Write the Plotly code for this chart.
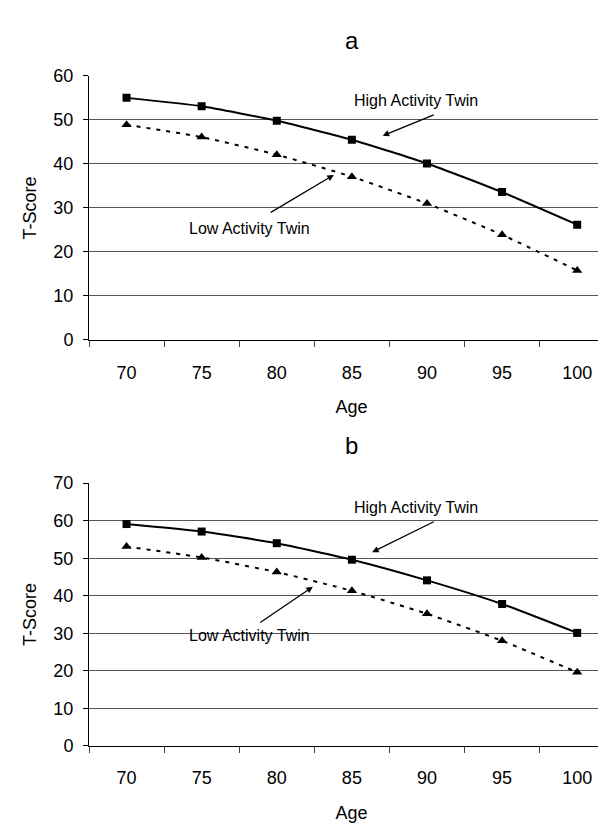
import plotly.graph_objects as go

ages = ["70", "75", "80", "85", "90", "95", "100"]

# Panel a
high_a = [55.0, 53.1, 49.8, 45.5, 40.1, 33.6, 26.2]
low_a = [48.9, 46.1, 42.1, 37.1, 31.0, 23.9, 15.8]
# Panel b
high_b = [59.1, 57.1, 54.0, 49.6, 44.1, 37.8, 30.1]
low_b = [53.1, 50.2, 46.3, 41.3, 35.2, 28.0, 19.6]

panel_titles = ["a", "b"]
FONT = "Liberation Sans, Arial, sans-serif"

fig = go.Figure()

def add_panel(high, low, xa, ya):
    fig.add_trace(go.Scatter(
        x=ages, y=high, xaxis=xa, yaxis=ya, mode="lines+markers",
        line=dict(color="black", width=2, shape="spline", smoothing=0.5),
        marker=dict(symbol="square", size=8, color="black"),
        showlegend=False, name="High Activity Twin"))
    fig.add_trace(go.Scatter(
        x=ages, y=low, xaxis=xa, yaxis=ya, mode="lines+markers",
        line=dict(color="black", width=2, shape="spline", smoothing=0.5, dash="4px,6px"),
        marker=dict(symbol="triangle-up", size=9, color="black"),
        showlegend=False, name="Low Activity Twin"))

add_panel(high_a, low_a, "x", "y")
add_panel(high_b, low_b, "x2", "y2")

H = 824.0
def dom(top_px, bottom_px):
    return [1 - bottom_px / H, 1 - top_px / H]

xcommon = dict(type="category", range=[-0.5, 6.49], showline=True, linecolor="black",
               linewidth=1, ticks="outside", ticklen=6, tickcolor="#444",
               tickson="boundaries", showgrid=False, zeroline=False,
               ticklabelstandoff=16,
               tickfont=dict(family=FONT, size=18, color="black"),
               title=dict(text="Age", font=dict(family=FONT, size=18, color="black"), standoff=18))
ycommon = dict(showline=True, linecolor="black", linewidth=1, ticks="outside", ticklen=5,
               tickcolor="black", showgrid=True, gridcolor="#555", gridwidth=1, zeroline=False,
               ticklabelstandoff=6,
               tickfont=dict(family=FONT, size=18, color="black"),
               title=dict(text="T-Score", font=dict(family=FONT, size=18, color="black"), standoff=12))

fig.update_layout(
    width=606, height=824,
    margin=dict(l=81, r=0, t=0, b=0),
    plot_bgcolor="white", paper_bgcolor="white",
    xaxis=dict(**xcommon, domain=[0, 1], anchor="y"),
    yaxis=dict(**ycommon, domain=dom(59.3, 330), range=[0, 60], dtick=10, anchor="x"),
    xaxis2=dict(**xcommon, domain=[0, 1], anchor="y2"),
    yaxis2=dict(**ycommon, domain=dom(476.7, 746), range=[0, 70], dtick=10, anchor="x2"),
)

ann = []
# panel titles
ann.append(dict(text=panel_titles[0], x=0.5, y=1 - 23 / H, xref="paper", yref="paper",
                showarrow=False, font=dict(family=FONT, size=24, color="black"),
                xanchor="center", yanchor="middle"))
ann.append(dict(text=panel_titles[1], x=0.5, y=1 - 438 / H, xref="paper", yref="paper",
                showarrow=False, font=dict(family=FONT, size=24, color="black"),
                xanchor="center", yanchor="middle"))

def label(text, x, y, xr, yr):
    ann.append(dict(text=text, x=x, y=y, xref=xr, yref=yr, showarrow=False,
                    font=dict(family=FONT, size=16, color="black"),
                    xanchor="center", yanchor="middle"))

def arrow(hx, hy, tx, ty, xr, yr):
    ann.append(dict(text="", x=hx, y=hy, ax=tx, ay=ty, xref=xr, yref=yr,
                    axref=xr, ayref=yr, showarrow=True, arrowhead=2, arrowsize=1,
                    arrowwidth=1.3, arrowcolor="black", standoff=0, startstandoff=0))

label("High Activity Twin", 3.86, 54.5, "x", "y")
label("Low Activity Twin", 1.64, 25.3, "x", "y")
arrow(3.41, 46.4, 4.11, 51.3, "x", "y")
arrow(2.76, 37.5, 1.90, 28.8, "x", "y")

label("High Activity Twin", 3.86, 63.6, "x2", "y2")
label("Low Activity Twin", 1.64, 29.5, "x2", "y2")
arrow(3.27, 51.6, 4.11, 59.9, "x2", "y2")
arrow(2.48, 42.4, 1.76, 32.6, "x2", "y2")

fig.update_layout(annotations=ann)
fig.write_html("out.html")
